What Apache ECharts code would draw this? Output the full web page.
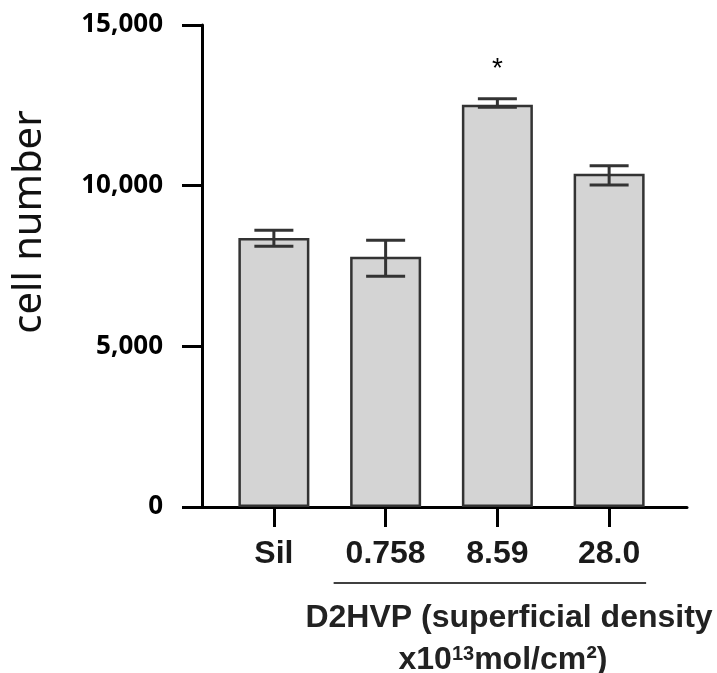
<!DOCTYPE html>
<html><head><meta charset="utf-8">
<script src="https://cdn.jsdelivr.net/npm/echarts@6/dist/echarts.min.js"></script>
<style>html,body{margin:0;padding:0;background:#fff}#c{width:717px;height:673px}</style>
</head><body><div id="c"></div>
<script>
const categories = ['Sil', '0.758', '8.59', '28.0'];
const meanValues = [8375, 7786, 12516, 10373];
const errorUpper = [8611, 8301, 12702, 10621];
const errorLower = [8115, 7183, 12444, 10021];
const significance = ['', '', '*', ''];
const yTicks = [0, 5000, 10000, 15000];
const groupMembers = ['0.758', '28.0'];
const groupLabelLine1 = 'D2HVP (superficial density';
const groupLabelLine2 = 'x10{sup|13}mol/cm²)';

const chart = echarts.init(document.getElementById('c'));
const axisColor = '#000';
const option = {
  animation: false,
  backgroundColor: '#fff',
  grid: [
    {left: 218, right: 52, top: 25, bottom: 166, containLabel: false, outerBoundsMode: 'none'},
    {left: 202, right: 30, top: 25, bottom: 166, containLabel: false, outerBoundsMode: 'none'}
  ],
  xAxis: [
    {type: 'category', gridIndex: 0, data: categories,
     axisLine: {show: false},
     axisTick: {show: true, alignWithLabel: true, length: 20, lineStyle: {width: 3, color: axisColor}},
     axisLabel: {interval: 0, margin: 31, fontFamily: 'Liberation Sans', fontWeight: 'bold', fontSize: 32, color: '#1a1a1a'}},
    {type: 'value', gridIndex: 1, min: 0, max: 1,
     axisLine: {show: true, lineStyle: {width: 3, color: axisColor}},
     axisTick: {show: false}, axisLabel: {show: false}, splitLine: {show: false}}
  ],
  yAxis: [
    {type: 'value', gridIndex: 0, min: yTicks[0], max: yTicks[yTicks.length - 1], interval: yTicks[1] - yTicks[0],
     offset: 16,
     axisLine: {show: true, lineStyle: {width: 3, color: axisColor}},
     axisTick: {show: true, length: 20, lineStyle: {width: 3, color: axisColor}},
     splitLine: {show: false},
     axisLabel: {margin: 39, fontFamily: 'Noto Sans', fontWeight: 'bold', fontSize: 26, color: '#000',
       formatter: v => v.toLocaleString('en-US')},
     name: 'cell number', nameLocation: 'middle', nameGap: 152,
     nameTextStyle: {fontFamily: 'Noto Sans', fontSize: 40, color: '#111', padding: [0, 0, 0, 88]}},
    {type: 'value', gridIndex: 1, show: false, min: 0, max: 1}
  ],
  series: [
    {type: 'bar', xAxisIndex: 0, yAxisIndex: 0, barWidth: 71,
     data: meanValues.map((v, i) => ({value: v,
       label: {show: !!significance[i], formatter: significance[i], position: 'top', distance: 22,
               fontFamily: 'Liberation Sans', fontSize: 28, color: '#000'}})),
     itemStyle: {color: '#d4d4d4', borderColor: '#333', borderWidth: 2.5}},
    {type: 'custom', xAxisIndex: 0, yAxisIndex: 0, z: 10,
     data: categories.map((c, i) => [i, errorLower[i], errorUpper[i]]),
     renderItem: function (params, api) {
       const lo = api.coord([api.value(0), api.value(1)]);
       const hi = api.coord([api.value(0), api.value(2)]);
       const hw = 19.5;
       const st = {stroke: '#333', lineWidth: 3};
       return {type: 'group', children: [
         {type: 'line', shape: {x1: lo[0], y1: lo[1], x2: hi[0], y2: hi[1]}, style: st},
         {type: 'line', shape: {x1: hi[0] - hw, y1: hi[1], x2: hi[0] + hw, y2: hi[1]}, style: st},
         {type: 'line', shape: {x1: lo[0] - hw, y1: lo[1], x2: lo[0] + hw, y2: lo[1]}, style: st}
       ]};
     }}
  ]
};
chart.setOption(option);

const xa = chart.convertToPixel({xAxisIndex: 0}, groupMembers[0]);
const xb = chart.convertToPixel({xAxisIndex: 0}, groupMembers[1]);
chart.setOption({
  graphic: [
    {type: 'line', shape: {x1: xa - 52, y1: 583, x2: xb + 37, y2: 583}, style: {stroke: '#000', lineWidth: 1.5}},
    {type: 'text', x: 509, y: 618, style: {text: groupLabelLine1, align: 'center', verticalAlign: 'middle',
      fontFamily: 'Liberation Sans', fontWeight: 'bold', fontSize: 32, fill: '#222'}},
    {type: 'text', x: 503, y: 660, style: {text: groupLabelLine2, align: 'center', verticalAlign: 'middle',
      fontFamily: 'Liberation Sans', fontWeight: 'bold', fontSize: 32, fill: '#222',
      rich: {sup: {fontFamily: 'Liberation Sans', fontWeight: 'bold', fontSize: 20, fill: '#222', verticalAlign: 'top'}}}}
  ]
});
</script></body></html>
